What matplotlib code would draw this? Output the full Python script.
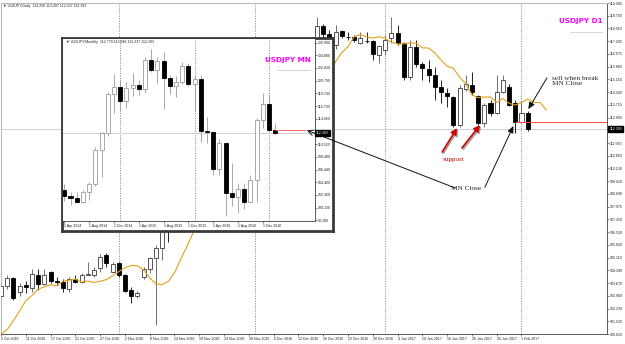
import numpy as np
import matplotlib
matplotlib.use('Agg')
import matplotlib.pyplot as plt
from matplotlib.transforms import blended_transform_factory, offset_copy

plt.rcParams['font.family'] = ['Liberation Sans', 'DejaVu Sans']

# ---- daily bars, 5 Oct 2016 .. 2 Feb 2017 (one entry per bar) ----
d_open = [102.96, 103.52, 103.97, 103.18, 103.57, 103.40, 104.14, 103.63, 104.31, 103.80,
          103.74, 103.35, 103.91, 103.74, 104.14, 104.14, 104.54, 105.27, 104.31, 104.82,
          104.14, 103.29, 102.96, 104.03, 104.48, 105.10, 105.66, 106.80, 106.63, 108.40,
          109.15, 109.05, 110.20, 110.90, 110.75, 111.05, 112.50, 113.30, 113.20, 111.95,
          112.35, 114.45, 114.05, 113.50, 113.95, 114.05, 113.75, 114.00, 115.25, 115.40,
          115.05, 117.05, 118.19, 117.75, 117.12, 117.91, 117.57, 117.57, 117.23, 117.37,
          117.35, 116.56, 116.84, 117.51, 117.80, 117.23, 115.31, 117.00, 116.05, 115.77,
          115.43, 114.75, 114.41, 114.18, 112.60, 114.64, 114.86, 114.24, 112.72, 113.85,
          113.28, 114.47, 114.75, 113.85, 112.77, 113.26]
d_high = [103.63, 104.14, 104.03, 103.69, 103.80, 104.48, 104.48, 104.48, 104.36, 104.03,
          103.91, 104.03, 104.14, 104.25, 104.87, 104.59, 105.33, 105.38, 104.87, 104.87,
          104.20, 103.46, 103.24, 104.59, 105.16, 105.83, 106.95, 106.95, 108.55, 109.35,
          109.40, 110.30, 111.00, 111.30, 111.40, 112.70, 113.50, 113.90, 113.30, 112.75,
          114.80, 114.85, 114.20, 114.55, 114.80, 114.50, 114.45, 115.40, 116.10, 115.60,
          117.25, 118.70, 118.30, 117.97, 118.25, 117.97, 117.85, 117.68, 117.85, 117.85,
          117.40, 117.12, 117.68, 118.70, 118.25, 117.29, 117.40, 117.40, 116.16, 116.27,
          115.88, 115.14, 114.69, 114.24, 114.86, 115.43, 115.60, 114.30, 113.85, 114.01,
          115.43, 115.43, 114.92, 114.01, 113.95, 113.40]
d_low = [102.67, 103.35, 102.73, 102.96, 103.12, 103.18, 103.29, 103.57, 103.69, 103.57,
         103.18, 103.18, 103.69, 103.69, 104.14, 104.03, 104.31, 104.59, 104.25, 104.03,
         103.18, 102.56, 102.84, 103.91, 104.25, 101.30, 105.00, 106.00, 106.55, 108.05,
         108.60, 108.75, 109.85, 110.40, 110.55, 110.90, 112.45, 112.85, 111.35, 111.60,
         112.20, 113.75, 113.10, 112.90, 113.80, 113.50, 113.35, 113.90, 114.80, 114.80,
         114.75, 116.90, 117.50, 116.60, 116.90, 117.51, 117.40, 117.29, 117.18, 117.23,
         116.27, 116.10, 116.56, 117.23, 117.12, 115.14, 115.14, 115.88, 115.14, 115.03,
         114.01, 113.85, 113.62, 112.49, 112.49, 114.52, 114.30, 112.60, 112.49, 113.11,
         113.23, 114.41, 113.68, 112.15, 112.72, 112.24]
d_close = [103.52, 103.97, 102.84, 103.52, 103.46, 104.20, 103.63, 104.14, 103.80, 103.74,
           103.40, 103.91, 103.74, 104.14, 104.20, 104.42, 105.16, 104.82, 104.76, 104.14,
           103.24, 102.96, 103.12, 104.48, 105.10, 105.66, 106.80, 106.63, 108.40, 109.15,
           109.05, 110.20, 110.90, 110.75, 111.05, 112.50, 113.30, 113.20, 111.95, 112.35,
           114.45, 114.05, 113.50, 113.95, 114.05, 113.75, 114.00, 115.25, 115.40, 115.05,
           117.05, 118.19, 117.75, 117.10, 117.85, 117.63, 117.55, 117.40, 117.51, 117.33,
           116.61, 117.06, 117.40, 117.80, 117.23, 115.31, 117.00, 116.05, 115.82, 115.43,
           114.75, 114.47, 114.24, 112.60, 114.69, 114.92, 114.47, 112.72, 113.73, 113.28,
           114.47, 115.14, 113.73, 112.77, 113.26, 112.393]
# closes of the bars just before the visible range (feed the moving average)
pre_close = [100.37, 100.46, 100.70, 101.08, 101.35, 101.70, 102.90]
ma_period = 5
ma_shift = 3

date_labels = ['5 Oct 2016', '11 Oct 2016', '17 Oct 2016', '21 Oct 2016', '27 Oct 2016',
               '2 Nov 2016', '8 Nov 2016', '14 Nov 2016', '18 Nov 2016', '24 Nov 2016',
               '30 Nov 2016', '6 Dec 2016', '12 Dec 2016', '16 Dec 2016', '22 Dec 2016',
               '28 Dec 2016', '4 Jan 2017', '10 Jan 2017', '16 Jan 2017', '20 Jan 2017',
               '26 Jan 2017', '1 Feb 2017']
month_separators = [19, 41, 62, 84]
# the label hidden under the price box is left blank
price_labels = ['100.810', '101.520', '102.230', '102.960', '103.670', '104.390', '105.110',
                '105.820', '106.530', '107.250', '107.975', '108.690', '109.410', '110.130',
                '110.850', '111.560', '', '112.990', '113.710', '114.430', '115.150',
                '115.860', '116.575', '117.290', '118.010', '118.750', '119.490']

# ---- monthly bars, Apr 2014 .. Feb 2017 ----
m_open = [103.2, 102.2, 101.8, 101.3, 102.8, 104.1, 109.6, 112.3, 118.6, 119.8, 117.5, 119.6,
          120.1, 119.4, 124.1, 122.5, 123.9, 121.2, 119.9, 120.6, 123.1, 120.2, 121.0, 112.7,
          112.5, 106.5, 110.7, 102.7, 102.1, 103.4, 101.3, 104.8, 114.5, 117.0, 112.77]
m_high = [104.1, 102.8, 102.8, 103.1, 104.5, 110.1, 112.5, 119.0, 121.9, 120.8, 120.5, 122.0,
          120.8, 124.5, 125.9, 124.6, 125.3, 121.7, 121.5, 123.8, 123.6, 121.7, 121.7, 114.9,
          112.7, 111.4, 110.9, 107.5, 104.3, 104.3, 105.5, 114.8, 118.7, 118.6, 113.946]
m_low = [101.4, 100.8, 101.1, 101.0, 101.5, 103.8, 105.2, 111.9, 115.6, 115.9, 116.4, 118.3,
         118.5, 118.9, 122.1, 120.4, 116.2, 118.6, 118.1, 120.3, 119.9, 115.9, 110.9, 110.7,
         105.5, 105.5, 99.0, 100.6, 99.5, 100.1, 101.2, 101.2, 113.1, 112.5, 112.237]
m_close = [102.2, 101.8, 101.3, 102.8, 104.1, 109.6, 112.3, 118.6, 119.8, 117.5, 119.6, 120.1,
           119.4, 124.1, 122.5, 123.9, 121.2, 119.9, 120.6, 123.1, 120.2, 121.0, 112.7, 112.5,
           106.5, 110.7, 102.7, 102.1, 103.4, 101.3, 104.8, 114.5, 117.0, 112.77, 112.393]
m_labels = ['1 Apr 2014', '1 Aug 2014', '1 Dec 2014', '1 Apr 2015', '1 Aug 2015',
            '1 Dec 2015', '1 Apr 2016', '1 Aug 2016', '1 Dec 2016']
year_separators = [9, 21, 33]
m_price_labels = ['98.280', '100.320', '102.360', '104.400', '106.440', '108.480', '110.520',
                  '', '114.660', '116.700', '118.740', '120.790', '122.820', '124.880',
                  '126.900']

last_price = 112.393
mn_close = 112.77

FS = 2.6


def candles(ax, o, h, l, c, width, up_edge, up_wick, dn_wick, lw=0.6):
    o, h, l, c = map(np.asarray, (o, h, l, c))
    x = np.arange(len(o))
    up = c >= o
    ax.vlines(x[up], l[up], h[up], color=up_wick, lw=lw, zorder=2)
    ax.vlines(x[~up], l[~up], h[~up], color=dn_wick, lw=lw, zorder=2)
    body = np.maximum(np.abs(c - o), 0.015)
    bottom = np.minimum(o, c)
    ax.bar(x[up], body[up], bottom=bottom[up], width=width, facecolor='white',
           edgecolor=up_edge, lw=lw, zorder=3)
    ax.bar(x[~up], body[~up], bottom=bottom[~up], width=width, facecolor='black',
           edgecolor='black', lw=lw, zorder=3)


def price_box(ax, value, text):
    tr = blended_transform_factory(ax.transAxes, ax.transData)
    ax.text(1.004, value, text, transform=tr, ha='left', va='center', fontsize=FS,
            color='white', clip_on=False, zorder=10,
            bbox=dict(boxstyle='square,pad=0.3', fc='black', ec='black'))


W, H = 625, 344
fig = plt.figure(figsize=(W / 100, H / 100), dpi=100)

# ---------------- main daily chart ----------------
ax = fig.add_axes([1 / W, (H - 334) / H, 606 / W, 331 / H])
candles(ax, d_open, d_high, d_low, d_close, 0.65, '#3a3a3a', '#5a5a5a', 'black')

closes = np.array(pre_close + d_close)
ma = np.convolve(closes, np.ones(ma_period) / ma_period, mode='valid')
ma_x = np.arange(len(ma)) - (len(pre_close) - ma_period + 1) + ma_shift
ax.plot(ma_x, ma, color='#E3A21A', lw=0.8, zorder=4)

for s in month_separators:
    ax.axvline(s, color='#8c8c8c', ls=(0, (1.5, 1.5)), lw=0.6, zorder=1)
ax.axhline(last_price, color='#c8c8c8', lw=0.6, zorder=1)
ax.hlines(mn_close, len(d_close) - 3, 100, color='#ff4a4a', lw=0.7, zorder=4)

ax.set_xlim(0.08, 97.8)
ax.set_ylim(100.81, 119.49)
ax.yaxis.tick_right()
ax.set_yticks(np.linspace(100.81, 119.49, len(price_labels)))
ax.set_yticklabels(price_labels)
ax.set_xticks(np.arange(len(date_labels)) * 4)
ax.set_xticklabels(date_labels, ha='left')
ax.tick_params(labelsize=FS, length=1.5, width=0.4, pad=0.8, colors='#222222')
for side in ('left', 'top'):
    ax.spines[side].set_color('#b8b8b8')
    ax.spines[side].set_linewidth(0.8)
for side in ('right', 'bottom'):
    ax.spines[side].set_color('#404040')
    ax.spines[side].set_linewidth(0.6)
price_box(ax, last_price, '%.3f' % last_price)

ax.text(0.004, 0.997, '\u25bc USDJPY,Daily  113.259 113.397 112.237 112.393',
        transform=ax.transAxes, fontsize=FS, va='top', ha='left', color='#222222')
ax.text(0.993, 0.947, 'USDJPY D1', transform=ax.transAxes, fontsize=5.2, fontweight='bold',
        color='#ff00ff', ha='right', va='center', family='DejaVu Sans')
ax.plot([0.939, 0.993], [0.912, 0.912], transform=ax.transAxes, color='#a0a0a0',
        ls=(0, (0.8, 0.8)), lw=0.6)

# ---------------- monthly inset ----------------
box = fig.add_axes([62 / W, (H - 231) / H, 271 / W, 193 / H], zorder=5)
box.set_xticks([])
box.set_yticks([])
for sp in box.spines.values():
    sp.set_color('#3a3a3a')
    sp.set_linewidth(2.0)

axi = fig.add_axes([63 / W, (H - 221) / H, 252 / W, 181.5 / H], zorder=6)
candles(axi, m_open, m_high, m_low, m_close, 0.65, '#9a9a9a', '#9a9a9a', '#9a9a9a')
for s in year_separators:
    axi.axvline(s, color='#8c8c8c', ls=(0, (1.5, 1.5)), lw=0.6, zorder=1)
axi.axhline(last_price, color='#c8c8c8', lw=0.6, zorder=1)
axi.hlines(mn_close, len(m_close) - 1, len(m_close) + 4, color='#ff6a6a', lw=0.7, zorder=4)
axi.set_xlim(-0.21, 40.4)
axi.set_ylim(98.17, 127.39)
axi.yaxis.tick_right()
axi.set_yticks(np.linspace(98.28, 126.90, len(m_price_labels)))
axi.set_yticklabels(m_price_labels)
axi.set_xticks(np.arange(len(m_labels)) * 4)
axi.set_xticklabels(m_labels, ha='left')
axi.tick_params(labelsize=FS, length=1.5, width=0.4, pad=0.8, colors='#222222')
for side in ('left', 'top'):
    axi.spines[side].set_visible(False)
for side in ('right', 'bottom'):
    axi.spines[side].set_color('#404040')
    axi.spines[side].set_linewidth(0.6)
price_box(axi, last_price, '%.3f' % last_price)
axi.text(0.01, 0.995, '\u25bc USDJPY,Monthly  112.770 113.946 112.237 112.393',
         transform=axi.transAxes, fontsize=FS, va='top', ha='left', color='#222222')
axi.text(0.985, 0.887, 'USDJPY MN', transform=axi.transAxes, fontsize=5.2,
         fontweight='bold', color='#ff00ff', ha='right', va='center', family='DejaVu Sans')
axi.plot([0.85, 0.98], [0.83, 0.83], transform=axi.transAxes, color='#a0a0a0',
         ls=(0, (0.8, 0.8)), lw=0.6)

# ---------------- annotations (drawn over everything) ----------------
ov = fig.add_axes([0, 0, 1, 1], zorder=20)
ov.set_axis_off()
ov.patch.set_alpha(0)
serif = ['Liberation Serif', 'DejaVu Serif']

ov.text(73.0, 110.66, 'support', transform=ax.transData, fontsize=5.2, family=serif,
        color='#d00000', ha='center', va='center')
ov.text(75.0, 109.0, 'MN Close', transform=ax.transData, fontsize=5.2, family=serif,
        color='#222222', ha='center', va='center')
ov.text(88.9, 115.06, 'sell when break\nMN Close', transform=ax.transData, fontsize=5.2,
        family=serif, color='#222222', ha='left', va='center', linespacing=1.0)

shadow = offset_copy(ax.transData, fig=fig, x=1.2, y=-1.2, units='dots')
for (x0, y0), (x1, y1) in [((71.2, 111.08), (73.6, 112.43)), ((74.4, 111.31), (77.3, 112.60))]:
    ov.annotate('', xy=(x1, y1), xycoords=shadow, xytext=(x0, y0), textcoords=shadow,
                arrowprops=dict(arrowstyle='-|>,head_length=0.35,head_width=0.18',
                                color='#a0a0a0', lw=1.3, shrinkA=0, shrinkB=0))
    ov.annotate('', xy=(x1, y1), xycoords=ax.transData, xytext=(x0, y0),
                textcoords=ax.transData,
                arrowprops=dict(arrowstyle='-|>,head_length=0.35,head_width=0.18',
                                color='#d00000', lw=1.2, shrinkA=0, shrinkB=0))

ov.annotate('', xy=(len(m_close) + 4.1, mn_close), xycoords=axi.transData,
            xytext=(73.3, 109.05), textcoords=ax.transData,
            arrowprops=dict(arrowstyle='->,head_length=0.4,head_width=0.2', color='#111111',
                            lw=0.7, shrinkA=0, shrinkB=0))
ov.annotate('', xy=(82.7, 112.55), xycoords=ax.transData, xytext=(78.1, 109.1),
            textcoords=ax.transData,
            arrowprops=dict(arrowstyle='-|>,head_length=0.4,head_width=0.18', color='#111111',
                            lw=0.7, shrinkA=0, shrinkB=0))
ov.annotate('', xy=(85.1, 113.5), xycoords=ax.transData, xytext=(88.1, 115.26),
            textcoords=ax.transData,
            arrowprops=dict(arrowstyle='-|>,head_length=0.4,head_width=0.18', color='#111111',
                            lw=0.7, shrinkA=0, shrinkB=0))

fig.savefig('out.png', dpi=100)
